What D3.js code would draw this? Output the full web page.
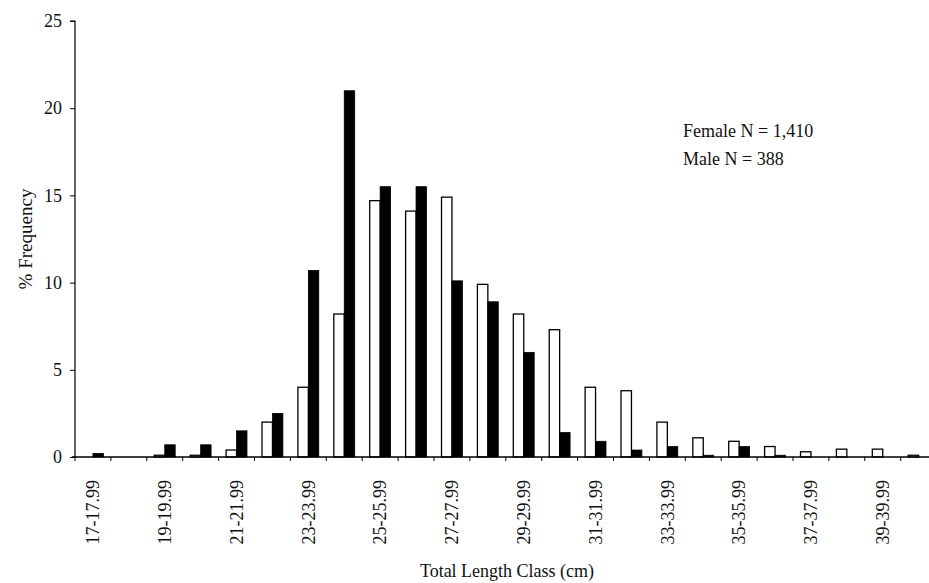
<!DOCTYPE html>
<html>
<head>
<meta charset="utf-8">
<script src="https://cdn.jsdelivr.net/npm/d3@7"></script>
<style>
  html, body { margin: 0; padding: 0; background: #fff; }
  svg { display: block; font-family: "Liberation Serif", "Times New Roman", serif; }
</style>
</head>
<body>
<svg id="chart" width="929" height="583"></svg>
<script>
// ---- data ----
const categories = ["17-17.99","18-18.99","19-19.99","20-20.99","21-21.99","22-22.99","23-23.99","24-24.99",
  "25-25.99","26-26.99","27-27.99","28-28.99","29-29.99","30-30.99","31-31.99","32-32.99",
  "33-33.99","34-34.99","35-35.99","36-36.99","37-37.99","38-38.99","39-39.99","40-40.99"];
const series = ["Female", "Male"];
const female = [0, 0, 0.1, 0.1, 0.4, 2.0, 4.0, 8.2, 14.7, 14.1, 14.9, 9.9, 8.2, 7.3, 4.0, 3.8, 2.0, 1.1, 0.9, 0.6, 0.3, 0.45, 0.45, 0.1];
const male   = [0.2, 0, 0.7, 0.7, 1.5, 2.5, 10.7, 21.0, 15.5, 15.5, 10.1, 8.9, 6.0, 1.4, 0.9, 0.4, 0.6, 0.1, 0.6, 0.1, 0, 0, 0, 0];
const tickLabels = ["17-17.99","19-19.99","21-21.99","23-23.99","25-25.99","27-27.99","29-29.99","31-31.99","33-33.99","35-35.99","37-37.99","39-39.99"];
const yTicks = [0, 5, 10, 15, 20, 25];
const notes = ["Female N = 1,410", "Male N = 388"];
const yTitle = "% Frequency";
const xTitle = "Total Length Class (cm)";

// ---- layout ----
const svg = d3.select("#chart");
const left = 75, step = 35.9;
const x = d3.scaleBand().domain(categories).range([left, left + step * categories.length]).padding(0);
const xs = d3.scaleBand().domain(series).range([0, x.bandwidth()]).paddingInner(0).paddingOuter(0.72);
const y = d3.scaleLinear().domain([0, 25]).range([457, 21]);

const table = categories.map((c, i) => ({ c, Female: female[i], Male: male[i] }));

// bars
const g = svg.append("g");
table.forEach(d => {
  series.forEach(s => {
    const v = d[s];
    if (v <= 0) return;
    g.append("rect")
      .attr("x", x(d.c) + xs(s))
      .attr("y", y(v))
      .attr("width", xs.bandwidth())
      .attr("height", y(0) - y(v))
      .attr("fill", s === "Female" ? "#fff" : "#000")
      .attr("stroke", "#000")
      .attr("stroke-width", s === "Female" ? 1.3 : 0.8);
  });
});

// y axis
const yAxis = svg.append("g")
  .attr("transform", `translate(${left},0)`)
  .call(d3.axisLeft(y).tickValues(yTicks).tickSize(5).tickPadding(8).tickFormat(d3.format("d")));
yAxis.select(".domain").attr("stroke", "#000").attr("stroke-width", 1.2).attr("d", `M-5,${y(25)}H0V${y(0)}`);
yAxis.selectAll(".tick line").attr("stroke", "#000");
yAxis.selectAll(".tick text").attr("font-size", 18).attr("font-family", "Liberation Serif").attr("fill", "#111");

// x axis
const xAxis = svg.append("g")
  .attr("transform", `translate(0,${y(0)})`)
  .call(d3.axisBottom(x).tickSize(0).tickPadding(0)
    .tickFormat(c => tickLabels.includes(c) ? c : ""));
xAxis.select(".domain").attr("stroke", "#000").attr("stroke-width", 1.4)
  .attr("d", `M${left - 3},0H929`);
xAxis.selectAll(".tick text")
  .attr("font-size", 18).attr("font-family", "Liberation Serif").attr("fill", "#111")
  .attr("text-anchor", "end")
  .attr("transform", "translate(0,23) rotate(-90)")
  .attr("dy", "0.35em").attr("y", 0).attr("x", 0);
// boundary tick marks
xAxis.selectAll("line.bt")
  .data(categories)
  .enter().append("line")
  .attr("class", "bt")
  .attr("x1", c => x(c)).attr("x2", c => x(c))
  .attr("y1", 0).attr("y2", 4)
  .attr("stroke", "#000").attr("stroke-width", 1);

// titles
svg.append("text")
  .attr("transform", `translate(32,${(y(0) + y(25)) / 2}) rotate(-90)`)
  .attr("text-anchor", "middle")
  .attr("font-size", 19).attr("fill", "#111")
  .text(yTitle);
svg.append("text")
  .attr("x", 507).attr("y", 577)
  .attr("text-anchor", "middle")
  .attr("font-size", 18).attr("fill", "#111")
  .text(xTitle);

// notes
svg.selectAll("text.note")
  .data(notes)
  .enter().append("text")
  .attr("class", "note")
  .attr("x", 683).attr("y", (d, i) => 137 + i * 28)
  .attr("font-size", 18).attr("fill", "#111")
  .text(d => d);
</script>
</body>
</html>
